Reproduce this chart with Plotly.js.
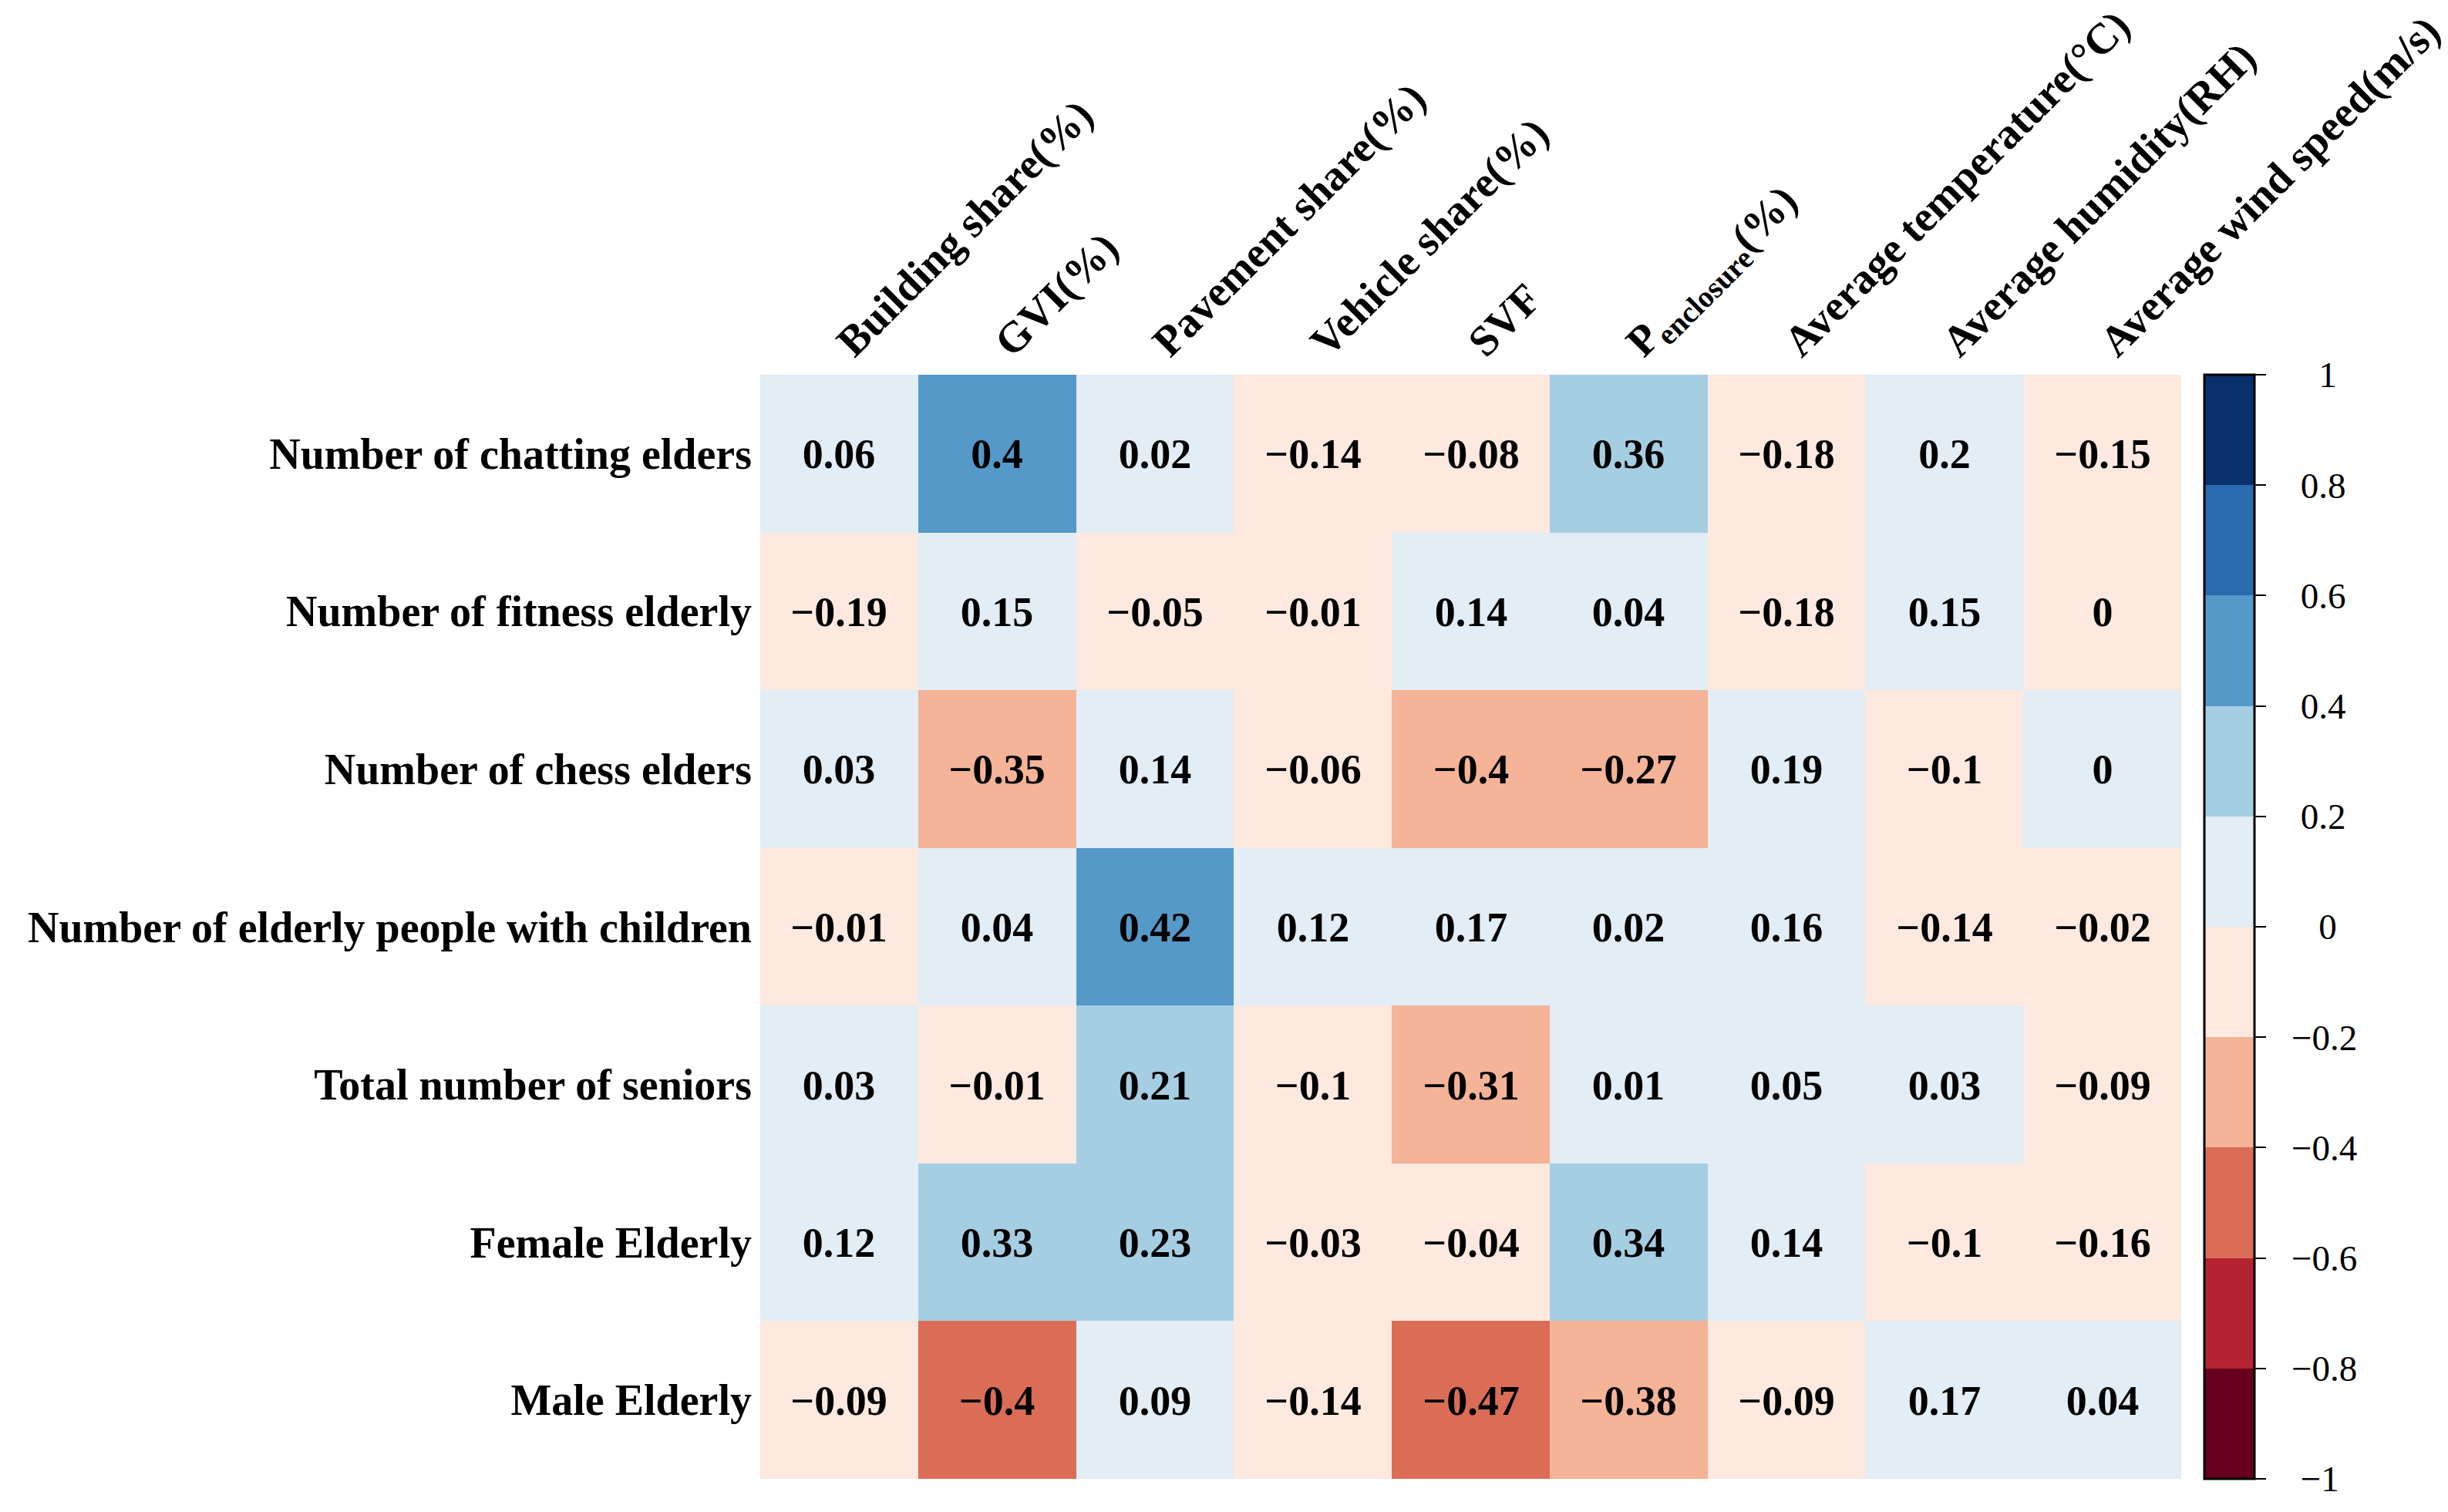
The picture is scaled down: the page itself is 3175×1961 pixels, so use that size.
<!DOCTYPE html>
<html>
<head>
<meta charset="utf-8">
<script src="https://cdn.plot.ly/plotly-3.0.1.min.js"></script>
<style>html,body{margin:0;padding:0;background:#fff;}#chart{width:3175px;height:1961px;}</style>
</head>
<body>
<div id="chart"></div>
<script>
// ---- data ----
const columnLabels = [
  "Building share(%)", "GVI(%)", "Pavement share(%)", "Vehicle share(%)", "SVF",
  "P<sub>enclosure</sub>(%)", "Average temperature(°C)", "Average humidity(RH)", "Average wind speed(m/s)"
];
const rowLabels = [
  "Number of chatting elders", "Number of fitness elderly", "Number of chess elders",
  "Number of elderly people with children", "Total number of seniors", "Female Elderly", "Male Elderly"
];
const chattingElders = [0.06, 0.402, 0.02, -0.14, -0.08, 0.36, -0.18, 0.198, -0.15];
const fitnessElderly = [-0.19, 0.15, -0.05, -0.01, 0.14, 0.04, -0.18, 0.15, -0.003];
const chessElders    = [0.03, -0.35, 0.14, -0.06, -0.398, -0.27, 0.19, -0.1, 0.003];
const withChildren   = [-0.01, 0.04, 0.42, 0.12, 0.17, 0.02, 0.16, -0.14, -0.02];
const totalSeniors   = [0.03, -0.01, 0.21, -0.1, -0.31, 0.01, 0.05, 0.03, -0.09];
const femaleElderly  = [0.12, 0.33, 0.23, -0.03, -0.04, 0.34, 0.14, -0.1, -0.16];
const maleElderly    = [-0.09, -0.402, 0.09, -0.14, -0.47, -0.38, -0.09, 0.17, 0.04];
const colorbarTicks  = [-1, -0.8, -0.6, -0.4, -0.2, 0, 0.2, 0.4, 0.6, 0.8, 1];
const binColors = ["#67001f", "#b52231", "#db6d57", "#f5b397", "#fde9df",
                   "#e2edf5", "#a6cee3", "#5599c8", "#2a6aaf", "#08306b"];

// ---- build ----
const z = [chattingElders, fitnessElderly, chessElders, withChildren, totalSeniors, femaleElderly, maleElderly];
const fmt = v => Number(v.toFixed(2)).toString().replace("-", "\u2212");
const text = z.map(r => r.map(fmt));
const colorscale = [];
binColors.forEach((c, i) => { colorscale.push([i / 10, c]); colorscale.push([(i + 1) / 10, c]); });

// centre the colour-bar labels (Times/Liberation Serif advance widths, in em)
const NB = "\u00a0";
const labelWidth = s => [...s].reduce((w, ch) => w + (ch === "\u2212" ? 0.564 : ch === "." ? 0.25 : 0.5), 0);
const maxW = Math.max(...colorbarTicks.map(v => labelWidth(fmt(v))));
const centred = v => {
  const s = fmt(v);
  const n = Math.floor((maxW - labelWidth(s)) / 2 / 0.25 + 0.4);
  return NB + NB + NB.repeat(n) + s;
};

const serif = "Liberation Serif, Times New Roman, serif";

const trace = {
  type: "heatmap",
  z: z, x: columnLabels, y: rowLabels,
  text: text, texttemplate: "%{text}",
  textfont: {family: serif, size: 54, color: "#000", weight: "bold"},
  colorscale: colorscale, zmin: -1, zmax: 1,
  xgap: 0, ygap: 0,
  hoverinfo: "skip",
  colorbar: {
    x: 1.0163, xanchor: "left", xpad: 0,
    y: 0.5, yanchor: "middle", ypad: 0,
    len: 1, lenmode: "fraction",
    thickness: 65, thicknessmode: "pixels",
    outlinewidth: 3, outlinecolor: "#000",
    ticks: "outside", ticklen: 14, tickwidth: 2, tickcolor: "#000",
    tickmode: "array", tickvals: colorbarTicks, ticktext: colorbarTicks.map(centred),
    tickfont: {family: serif, size: 47, color: "#000"}
  }
};

const layout = {
  width: 3175, height: 1961,
  margin: {l: 986, r: 346, t: 486, b: 43, pad: 0},
  paper_bgcolor: "#fff", plot_bgcolor: "#fff",
  xaxis: {
    side: "top", tickangle: -45, ticks: "", showgrid: false, zeroline: false, showline: false,
    tickfont: {family: serif, size: 56, color: "#000", weight: "bold"},
    automargin: false
  },
  yaxis: {
    autorange: "reversed", ticks: "", showgrid: false, zeroline: false, showline: false,
    tickfont: {family: serif, size: 56, color: "#000", weight: "bold"},
    ticklabelstandoff: 10,
    automargin: false
  }
};

Plotly.newPlot("chart", [trace], layout, {staticPlot: true, displayModeBar: false});
</script>
</body>
</html>
